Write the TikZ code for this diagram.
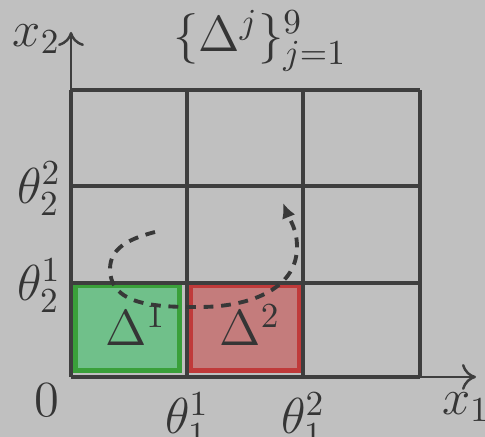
\documentclass[tikz,border=0pt]{standalone}
\usepackage{amsmath}
\usepackage{xcolor}
\usetikzlibrary{arrows.meta,positioning}

\definecolor{bggray}{RGB}{192,192,192}
\definecolor{gridgray}{RGB}{62,62,62}
\definecolor{cellgreen}{RGB}{112,192,138}
\definecolor{edgegreen}{RGB}{58,160,58}
\definecolor{cellred}{RGB}{196,124,124}
\definecolor{edgered}{RGB}{192,58,58}

\begin{document}
\begin{tikzpicture}[
   every node/.style={font=\fontsize{14}{17}\selectfont,text=gridgray!85!black,inner sep=1pt},
   gridln/.style={draw=gridgray,line width=1.4pt},
   axis/.style={draw=gridgray,line width=0.7pt,-{To[length=1.4mm,width=2.6mm]}},
   cellA/.style={fill=cellgreen,draw=edgegreen,line width=1.4pt},
   cellB/.style={fill=cellred,draw=edgered,line width=1.4pt},
   path/.style={draw=gridgray!90!black,line width=1.1pt,dash pattern=on 2.8pt off 2.2pt,
                -{Latex[length=1.5mm,width=1.4mm]}}
]
\fill[bggray] (0,0) rectangle (4.85,4.37);
\useasboundingbox (0,0) rectangle (4.85,4.37);

% corner points of the grid
\coordinate (O) at (0.71,0.60);
\coordinate (TL) at (0.71,3.47);
\coordinate (BR) at (4.20,0.60);
\coordinate (Y) at (0.71,4.05);
\coordinate (X) at (4.76,0.60);

% axes
\draw[axis] (TL) -- (Y);
\draw[axis] (BR) -- (X);

% partition cells
\draw[cellA] (0.755,0.665) rectangle (1.795,1.515);
\draw[cellB] (1.905,0.665) rectangle (2.995,1.515);

% grid
\foreach \xv in {0.71,1.87,3.03,4.20}
   \draw[gridln] (\xv,0.60) -- (\xv,3.47);
\foreach \yv in {0.60,1.54,2.51,3.47}
   \draw[gridln] (0.71,\yv) -- (4.20,\yv);

% labels
\node (lx2) at (0.365,3.98) {$x_2$};
\node (set) at (2.60,3.965) {$\{\Delta^j\}_{j=1}^{9}$};
\node (t22) at (0.39,2.48) {$\theta_2^2$};
\node (t21) at (0.39,1.51) {$\theta_2^1$};
\node (zero) at (0.47,0.37) {$0$};
\node[anchor=north] (t11) at (1.87,0.485) {$\theta_1^1$};
\node[anchor=north] (t12) at (3.03,0.485) {$\theta_1^2$};
\node (lx1) at (4.66,0.30) {$x_1$};
\node (d1) at (1.355,1.12) {$\Delta^1$};
\node (d2) at (2.50,1.12) {$\Delta^2$};

% trajectory
\coordinate (s0) at (1.55,2.05);
\coordinate (s1) at (1.10,1.68);
\coordinate (s2) at (2.00,1.30);
\coordinate (s3) at (2.97,1.90);
\coordinate (s4) at (2.83,2.34);
\draw[path] (s0) to[out=195,in=90] (s1) to[out=-90,in=180] (s2)
   to[out=0,in=-90] (s3) to[out=90,in=-68] (s4);

\end{tikzpicture}
\end{document}
